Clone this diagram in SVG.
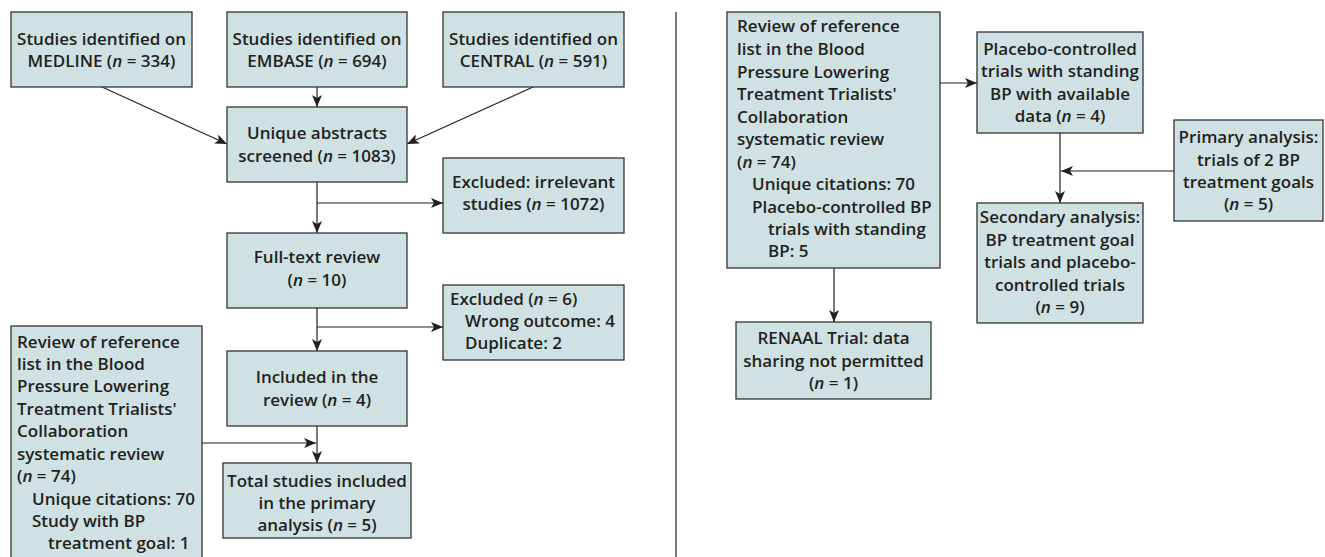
<svg xmlns="http://www.w3.org/2000/svg" width="1325" height="557" viewBox="0 0 1325 557">
<defs>
<style>
.box{fill:#cfe1e3;stroke:#333;stroke-width:1.3}
.t{font-family:"Open Sans","Liberation Sans",sans-serif;font-weight:600;font-size:17px;fill:#231f20}
.c{text-anchor:middle}
.i{font-style:italic}
.ln{fill:none;stroke:#231f20;stroke-width:1.2}
</style>
<marker id="ah" viewBox="0 0 12 10" refX="12" refY="5" markerWidth="12" markerHeight="10" markerUnits="userSpaceOnUse" orient="auto">
<path d="M0,0 L12,5 L0,10 L3,5 z" fill="#231f20"/>
</marker>
</defs>
<rect width="1325" height="557" fill="#fff"/>

<g id="connectors">
<line class="ln" x1="102" y1="87" x2="227" y2="144" marker-end="url(#ah)"/>
<line class="ln" x1="317" y1="87" x2="317" y2="107" marker-end="url(#ah)"/>
<line class="ln" x1="533" y1="87" x2="407" y2="144" marker-end="url(#ah)"/>
<line class="ln" x1="317" y1="182" x2="317" y2="233" marker-end="url(#ah)"/>
<line class="ln" x1="317" y1="203" x2="443" y2="203" marker-end="url(#ah)"/>
<line class="ln" x1="317" y1="308" x2="317" y2="351" marker-end="url(#ah)"/>
<line class="ln" x1="317" y1="327" x2="443" y2="327" marker-end="url(#ah)"/>
<line class="ln" x1="317" y1="426" x2="317" y2="463" marker-end="url(#ah)"/>
<line class="ln" x1="202" y1="443" x2="316" y2="443" marker-end="url(#ah)"/>
<line class="ln" x1="676" y1="12" x2="676" y2="557"/>
<line class="ln" x1="940" y1="83" x2="977" y2="83" marker-end="url(#ah)"/>
<line class="ln" x1="1060" y1="133" x2="1060" y2="203" marker-end="url(#ah)"/>
<line class="ln" x1="1174" y1="171" x2="1061" y2="171" marker-end="url(#ah)"/>
<line class="ln" x1="834" y1="268" x2="834" y2="322" marker-end="url(#ah)"/>
</g>

<g id="medline">
<rect class="box" x="11" y="12" width="181" height="75"/>
<text class="t c" x="101.5" y="45">Studies identified on</text>
<text class="t c" x="101.5" y="67">MEDLINE (<tspan class="i">n</tspan> = 334)</text>
</g>
<g id="embase">
<rect class="box" x="227" y="12" width="180" height="75"/>
<text class="t c" x="317" y="45">Studies identified on</text>
<text class="t c" x="317" y="67">EMBASE (<tspan class="i">n</tspan> = 694)</text>
</g>
<g id="central">
<rect class="box" x="443" y="12" width="181" height="75"/>
<text class="t c" x="533.5" y="45">Studies identified on</text>
<text class="t c" x="533.5" y="67">CENTRAL (<tspan class="i">n</tspan> = 591)</text>
</g>
<g id="unique">
<rect class="box" x="227" y="107" width="180" height="75"/>
<text class="t c" x="317" y="139">Unique abstracts</text>
<text class="t c" x="317" y="162">screened (<tspan class="i">n</tspan> = 1083)</text>
</g>
<g id="excluded1">
<rect class="box" x="443" y="158" width="181" height="75"/>
<text class="t c" x="533.5" y="188">Excluded: irrelevant</text>
<text class="t c" x="533.5" y="210">studies (<tspan class="i">n</tspan> = 1072)</text>
</g>
<g id="fulltext">
<rect class="box" x="227" y="233" width="180" height="75"/>
<text class="t c" x="317" y="263">Full-text review</text>
<text class="t c" x="317" y="286">(<tspan class="i">n</tspan> = 10)</text>
</g>
<g id="excluded2">
<rect class="box" x="443" y="285" width="181" height="75"/>
<text class="t" x="450" y="305">Excluded (<tspan class="i">n</tspan> = 6)</text>
<text class="t" x="465" y="327">Wrong outcome: 4</text>
<text class="t" x="465" y="349">Duplicate: 2</text>
</g>
<g id="included">
<rect class="box" x="227" y="351" width="180" height="75"/>
<text class="t c" x="317" y="383">Included in the</text>
<text class="t c" x="317" y="406">review (<tspan class="i">n</tspan> = 4)</text>
</g>
<g id="total">
<rect class="box" x="223" y="463" width="188" height="75"/>
<text class="t c" x="317" y="487">Total studies included</text>
<text class="t c" x="317" y="509">in the primary</text>
<text class="t c" x="317" y="531">analysis (<tspan class="i">n</tspan> = 5)</text>
</g>
<g id="review-left">
<rect class="box" x="11" y="326" width="191" height="240"/>
<text class="t" x="17" y="348">Review of reference</text>
<text class="t" x="17" y="370">list in the Blood</text>
<text class="t" x="17" y="392">Pressure Lowering</text>
<text class="t" x="17" y="415">Treatment Trialists'</text>
<text class="t" x="17" y="437">Collaboration</text>
<text class="t" x="17" y="460">systematic review</text>
<text class="t" x="17" y="482">(<tspan class="i">n</tspan> = 74)</text>
<text class="t" x="32" y="505">Unique citations: 70</text>
<text class="t" x="32" y="527">Study with BP</text>
<text class="t" x="48" y="549">treatment goal: 1</text>
</g>

<g id="review-right">
<rect class="box" x="727" y="12" width="213" height="256"/>
<text class="t" x="737" y="32">Review of reference</text>
<text class="t" x="737" y="55">list in the Blood</text>
<text class="t" x="737" y="78">Pressure Lowering</text>
<text class="t" x="737" y="100">Treatment Trialists'</text>
<text class="t" x="737" y="123">Collaboration</text>
<text class="t" x="737" y="145">systematic review</text>
<text class="t" x="737" y="168">(<tspan class="i">n</tspan> = 74)</text>
<text class="t" x="752" y="190">Unique citations: 70</text>
<text class="t" x="752" y="213">Placebo-controlled BP</text>
<text class="t" x="768" y="235">trials with standing</text>
<text class="t" x="768" y="257">BP: 5</text>
</g>
<g id="renaal">
<rect class="box" x="736" y="322" width="195" height="77"/>
<text class="t c" x="833.5" y="344">RENAAL Trial: data</text>
<text class="t c" x="833.5" y="367">sharing not permitted</text>
<text class="t c" x="833.5" y="389">(<tspan class="i">n</tspan> = 1)</text>
</g>
<g id="placebo">
<rect class="box" x="977" y="32" width="166" height="101"/>
<text class="t c" x="1060" y="55">Placebo-controlled</text>
<text class="t c" x="1060" y="77">trials with standing</text>
<text class="t c" x="1060" y="100">BP with available</text>
<text class="t c" x="1060" y="122">data (<tspan class="i">n</tspan> = 4)</text>
</g>
<g id="primary">
<rect class="box" x="1174" y="120" width="149" height="101"/>
<text class="t c" x="1248.5" y="143">Primary analysis:</text>
<text class="t c" x="1248.5" y="166">trials of 2 BP</text>
<text class="t c" x="1248.5" y="188">treatment goals</text>
<text class="t c" x="1248.5" y="210">(<tspan class="i">n</tspan> = 5)</text>
</g>
<g id="secondary">
<rect class="box" x="977" y="203" width="166" height="120"/>
<text class="t c" x="1060" y="223">Secondary analysis:</text>
<text class="t c" x="1060" y="246">BP treatment goal</text>
<text class="t c" x="1060" y="268">trials and placebo-</text>
<text class="t c" x="1060" y="291">controlled trials</text>
<text class="t c" x="1060" y="313">(<tspan class="i">n</tspan> = 9)</text>
</g>
</svg>
